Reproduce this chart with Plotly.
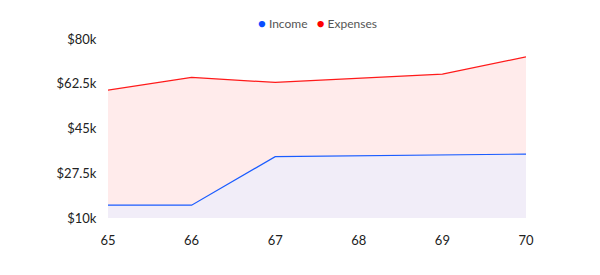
import plotly.graph_objects as go

years = [65, 66, 67, 68, 69, 70]
income = [15000, 15000, 34000, 34300, 34700, 35000]
expenses = [60000, 65000, 63000, 64700, 66300, 73000]
y_ticks = [10000, 27500, 45000, 62500, 80000]
y_tick_labels = ["$10k", "$27.5k", "$45k", "$62.5k", "$80k"]
series_names = ["Income", "Expenses"]
series_colors = ["#0a4dff", "#ff0000"]

fig = go.Figure()
fig.add_trace(go.Scatter(x=years, y=income, mode="lines", fill="tozeroy",
                         line=dict(color="#1a5cff", width=1.2),
                         fillcolor="rgba(120,80,190,0.1)", showlegend=False, hoverinfo="skip"))
fig.add_trace(go.Scatter(x=years, y=expenses, mode="lines", fill="tonexty",
                         line=dict(color="#ff1a1a", width=1.2),
                         fillcolor="rgba(255,0,0,0.08)", showlegend=False, hoverinfo="skip"))

legend_text = "   ".join(
    f"<span style='color:{c};font-size:13px'>●</span> {n}" for n, c in zip(series_names, series_colors)
)
fig.add_annotation(text=legend_text, xref="paper", yref="paper", x=0.5, y=1.0,
                   yshift=16, xanchor="center", yanchor="middle", showarrow=False,
                   font=dict(size=12, color="#555"))

fig.update_layout(
    width=600, height=275,
    margin=dict(l=108, r=74, t=39, b=57, autoexpand=False),
    paper_bgcolor="white", plot_bgcolor="white",
    font=dict(family="Lato, Nunito, sans-serif", size=13, color="#222"),
    showlegend=False,
)
fig.update_xaxes(range=[65, 70], tickvals=years, showgrid=False, zeroline=False,
                 showline=False, ticks="outside", ticklen=10, tickcolor="rgba(0,0,0,0)")
fig.update_yaxes(range=[10000, 80000], tickvals=y_ticks, ticktext=y_tick_labels,
                 showgrid=False, zeroline=False, showline=False, ticks="outside",
                 ticklen=8, tickcolor="rgba(0,0,0,0)")

fig.write_html("out.html")
